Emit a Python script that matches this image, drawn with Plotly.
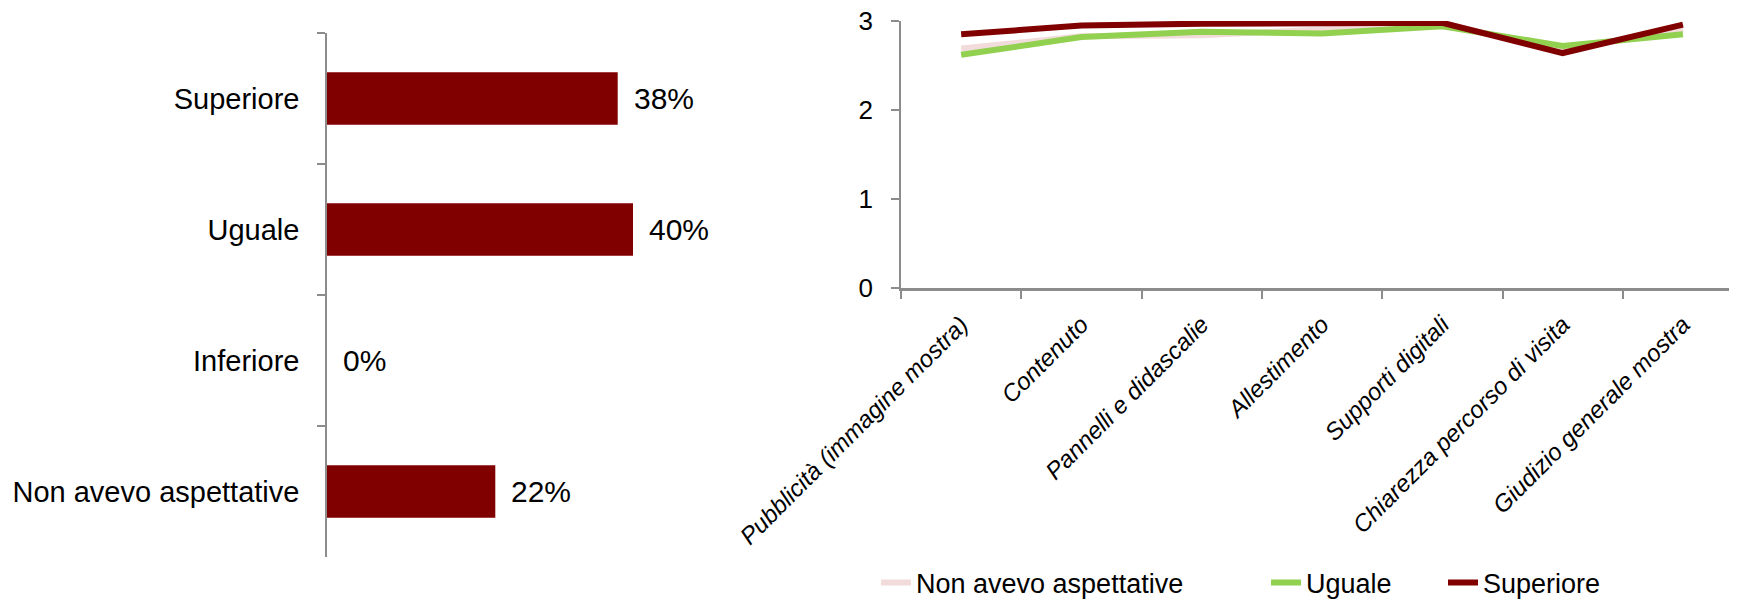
import plotly.graph_objects as go

# ---- data: left bar chart ----
bar_categories = ["Superiore", "Uguale", "Inferiore", "Non avevo aspettative"]
bar_values = [38, 40, 0, 22]

# ---- data: right line chart ----
line_categories = [
    "Pubblicità (immagine mostra)",
    "Contenuto",
    "Pannelli e didascalie",
    "Allestimento",
    "Supporti digitali",
    "Chiarezza percorso di visita",
    "Giudizio generale mostra",
]
non_avevo = [2.69, 2.83, 2.84, 2.90, 2.97, 2.67, 2.91]
uguale = [2.62, 2.82, 2.88, 2.86, 2.94, 2.72, 2.85]
superiore = [2.85, 2.95, 2.97, 2.98, 2.98, 2.64, 2.96]
y_ticks = [0, 1, 2, 3]

FONT = "Liberation Sans, Arial, sans-serif"
DARK_RED = "#800000"
GREEN = "#92D050"
PINK = "#F2DCDB"
AXIS_GRAY = "#8C8C8C"
# page body has an 8px margin, so the figure is sized to fit the window
W, H = 1729, 591

fig = go.Figure()

fig.add_trace(go.Bar(
    x=bar_values, y=bar_categories, orientation="h",
    marker=dict(color=DARK_RED, line=dict(width=0)),
    xaxis="x", yaxis="y", showlegend=False, hoverinfo="skip",
))

for name, vals, col, leg in [
    ("Non avevo aspettative", non_avevo, PINK, "legend"),
    ("Uguale", uguale, GREEN, "legend2"),
    ("Superiore", superiore, DARK_RED, "legend3"),
]:
    fig.add_trace(go.Scatter(
        x=line_categories, y=vals, mode="lines", name=name,
        line=dict(color=col, width=6),
        xaxis="x2", yaxis="y2", legend=leg,
    ))

annotations = []
for cat, v in zip(bar_categories, bar_values):
    annotations.append(dict(
        x=v, y=cat, xref="x", yref="y", text=f"{v}%", showarrow=False,
        xanchor="left", yanchor="middle", xshift=14,
        font=dict(family=FONT, size=30, color="black"),
    ))

px_per_pct = 7.65
left_px = 319
x1_range = 50
right_left_px = 893
cat_px = 120.3
legend_font = dict(family=FONT, size=27, color="black")
leg_y = 1 - 575 / H

fig.update_layout(
    width=W, height=H,
    margin=dict(l=0, r=0, t=0, b=0, autoexpand=False),
    paper_bgcolor="white", plot_bgcolor="white",
    bargap=0.6,
    font=dict(family=FONT, color="black"),
    xaxis=dict(
        domain=[left_px / W, (left_px + x1_range * px_per_pct) / W],
        range=[0, x1_range], visible=False, fixedrange=True,
    ),
    yaxis=dict(
        domain=[1 - 549 / H, 1 - 25 / H],
        type="category", categoryorder="array", categoryarray=bar_categories,
        range=[3.5, -0.5],
        showline=True, linecolor=AXIS_GRAY, linewidth=1.5,
        ticks="outside", tickson="boundaries", ticklen=8, tickcolor=AXIS_GRAY, tickwidth=1.5,
        showgrid=False, zeroline=False, automargin=False,
        tickfont=dict(family=FONT, size=29, color="black"),
        ticklabelstandoff=20,
    ),
    xaxis2=dict(
        domain=[right_left_px / W, 1.0], anchor="y2",
        type="category", range=[-0.5, -0.5 + (W - right_left_px) / cat_px],
        showline=True, linecolor=AXIS_GRAY, linewidth=3,
        ticks="outside", tickson="boundaries", ticklen=8, tickcolor=AXIS_GRAY, tickwidth=2,
        showgrid=False, zeroline=False, automargin=False,
        tickangle=-45,
        tickfont=dict(family=FONT, size=24, color="black", style="italic"),
        ticklabelstandoff=10,
    ),
    yaxis2=dict(
        domain=[1 - 280 / H, 1 - 13 / H], anchor="x2",
        range=[0, 3], tickvals=y_ticks,
        showline=True, linecolor=AXIS_GRAY, linewidth=1.5,
        ticks="outside", ticklen=8, tickcolor=AXIS_GRAY, tickwidth=1.5,
        showgrid=False, zeroline=False, automargin=False,
        tickfont=dict(family=FONT, size=26, color="black"),
        ticklabelstandoff=13, ticklabeloverflow="allow",
    ),
    legend=dict(orientation="h", x=868 / W, y=leg_y, xanchor="left", yanchor="middle",
                font=legend_font, bgcolor="rgba(0,0,0,0)"),
    legend2=dict(orientation="h", x=1258 / W, y=leg_y, xanchor="left", yanchor="middle",
                 font=legend_font, bgcolor="rgba(0,0,0,0)"),
    legend3=dict(orientation="h", x=1435 / W, y=leg_y, xanchor="left", yanchor="middle",
                 font=legend_font, bgcolor="rgba(0,0,0,0)"),
    annotations=annotations,
    showlegend=True,
)

fig.write_html("out.html")
